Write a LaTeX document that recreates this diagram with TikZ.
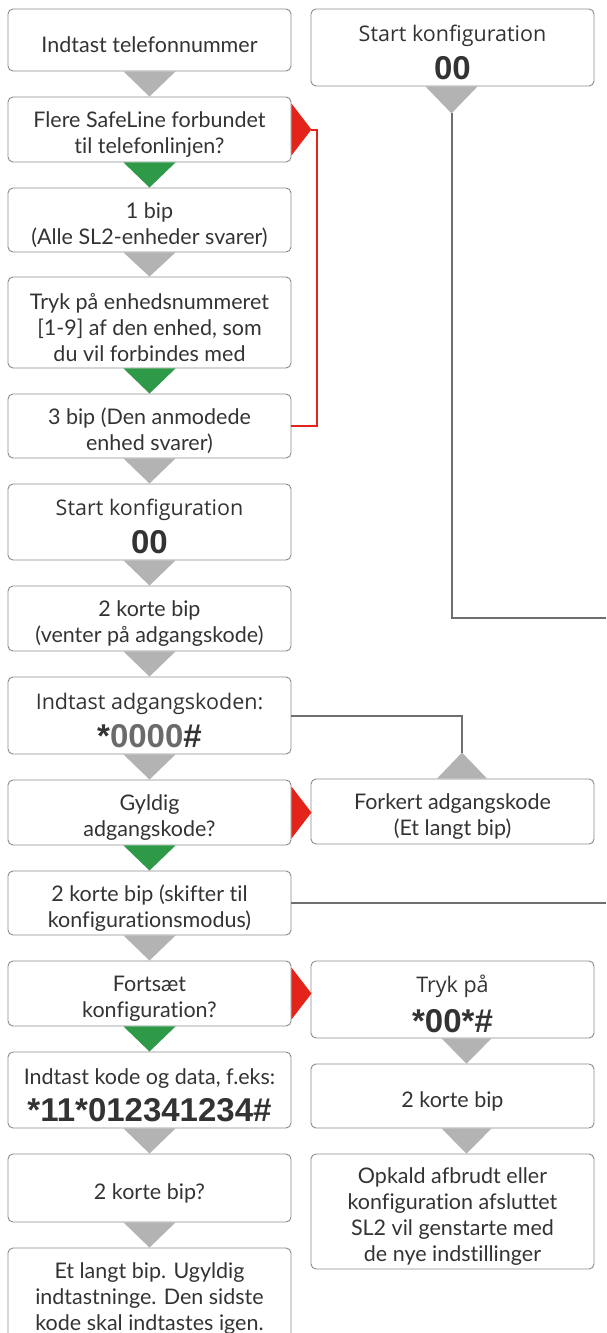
\documentclass[tikz,border=0pt]{standalone}
\usepackage{fontspec}
\setmainfont{Lato}[Ligatures={NoCommon}]
\newfontfamily\boldfont{Liberation Sans}
\newfontfamily\segfont{Open Sans}[Ligatures={NoCommon}]
\usetikzlibrary{calc}
\definecolor{tgray}{HTML}{B3B3B3}
\definecolor{tgreen}{HTML}{2E9A48}
\definecolor{tred}{HTML}{E3241B}
\definecolor{lgray}{HTML}{6E6E6E}
\definecolor{bgray}{HTML}{8A8A8A}
\definecolor{txt}{HTML}{333333}
\definecolor{zgray}{HTML}{6B6B6B}
\newcommand{\bigb}[1]{{\boldfont\bfseries\fontsize{33}{33}\selectfont #1}}
\newcommand{\st}{\rule{0pt}{26pt}}
\begin{document}
\begin{tikzpicture}[x=1pt,y=-1pt,
  box/.style={draw=bgray, line width=0.9pt, rounded corners=5pt, minimum width=283pt,
    inner sep=0pt, align=center, text=txt, font=\fontsize{21.5}{26}\selectfont},
  graytri/.style={fill=tgray},
  greentri/.style={fill=tgreen},
  redtri/.style={fill=tred},
  redline/.style={draw=tred, line width=2pt},
  grayline/.style={draw=lgray, line width=2pt}]
\useasboundingbox (0,0) rectangle (606,1333);

% left column
\node[box, minimum height=62pt] (b1) at (149.5,40) {\st Indtast telefonnummer};
\node[box, minimum height=65pt] (b2) at (149.5,129.5) {\st Flere SafeLine forbundet\\til telefonlinjen?};
\node[box, minimum height=64pt] (b3) at (149.5,220) {\st 1 bip\\(Alle SL2-enheder svarer)};
\node[box, minimum height=91pt] (b4) at (149.5,322.5) {\st Tryk på enhedsnummeret\\{[1-9]} af den enhed, som\\du vil forbindes med};
\node[box, minimum height=64pt] (b5) at (149.5,426) {\st 3 bip (Den anmodede\\enhed svarer)};
\node[box, minimum height=76pt] (b6) at (149.5,522) {\st\segfont Start konfiguration\\[9pt]\bigb{00}};
\node[box, minimum height=65pt] (b7) at (149.5,618.5) {\st 2 korte bip\\(venter på adgangskode)};
\node[box, minimum height=77pt] (b8) at (149.5,715.5) {\st\segfont Indtast adgangskoden:\\[9pt]\bigb{*\textcolor{zgray}{0000}\#}};
\node[box, minimum height=65pt] (b9) at (149.5,812.5) {\st Gyldig\\adgangskode?};
\node[box, minimum height=64pt] (b10) at (149.5,903) {\st 2 korte bip (skifter til\\konfigurationsmodus)};
\node[box, minimum height=65pt] (b11) at (149.5,993.5) {\st Fortsæt\\konfiguration?};
\node[box, minimum height=76pt] (b12) at (149.5,1090) {\st Indtast kode og data, f.eks:\\[9pt]\bigb{*11*012341234\#}};
\node[box, minimum height=68pt] (b13) at (149.5,1188) {\st 2 korte bip?};
\node[box, minimum height=90pt] (b14) at (149.5,1293) {\st Et langt bip. Ugyldig\\indtastninge. Den sidste\\kode skal indtastes igen.};

% right column
\node[box, minimum height=77pt] (r1) at (452.5,47.5) {\st\segfont Start konfiguration\\[9pt]\bigb{00}};
\node[box, minimum height=65pt] (rf) at (452.5,811.5) {\st Forkert adgangskode\\(Et langt bip)};
\node[box, minimum height=77pt] (r2) at (452.5,999.5) {\st\segfont Tryk på\\[11pt]\bigb{*00*\#}};
\node[box, minimum height=64pt] (r3) at (452.5,1096) {\st 2 korte bip};
\node[box, minimum height=115pt] (r4) at (452.5,1211.5) {\st Opkald afbrudt eller\\konfiguration afsluttet\\SL2 vil genstarte med\\de nye indstillinger};

% triangles left column
\foreach \a/\b/\s in {b1/b2/graytri, b2/b3/greentri, b3/b4/graytri, b4/b5/greentri,
  b5/b6/graytri, b6/b7/graytri, b7/b8/graytri, b8/b9/graytri, b9/b10/greentri,
  b10/b11/graytri, b11/b12/greentri, b12/b13/graytri, b13/b14/graytri}
  \fill[\s] ($(\a.south)+(-26,0)$) -- ($(\a.south)+(26,0)$) -- (\b.north) -- cycle;

% red side triangles
\foreach \a in {b2, b9, b11}
  \fill[redtri] ($(\a.east)+(0,-26)$) -- ($(\a.east)+(0,26)$) -- ($(\a.east)+(20,0)$) -- cycle;

% right column triangles
\coordinate (r1tip) at ($(r1.south)+(-1,27)$);
\fill[graytri] ($(r1.south)+(-27,0)$) -- ($(r1.south)+(25,0)$) -- (r1tip) -- cycle;
\coordinate (rftip) at ($(rf.north)+(9.5,-26)$);
\fill[graytri] ($(rf.north)+(-15.5,0)$) -- ($(rf.north)+(34.5,0)$) -- (rftip) -- cycle;
\fill[graytri] ($(r2.south)+(-11,0)$) -- ($(r2.south)+(39,0)$) -- ($(r3.north)+(14,0)$) -- cycle;
\fill[graytri] ($(r3.south)+(-11,0)$) -- ($(r3.south)+(39,0)$) -- ($(r4.north)+(14,0)$) -- cycle;

% connector lines
\coordinate (redtip) at ($(b2.east)+(20,0)$);
\draw[redline] (b5.east) -- ++(25.5,0) |- (redtip);
\coordinate (e1) at (606,618);
\draw[grayline] (r1tip) |- (e1);
\draw[grayline] (b8.east) -| (rftip);
\coordinate (e2) at (606,903);
\draw[grayline] (b10.east) -- (e2);
\end{tikzpicture}
\end{document}
